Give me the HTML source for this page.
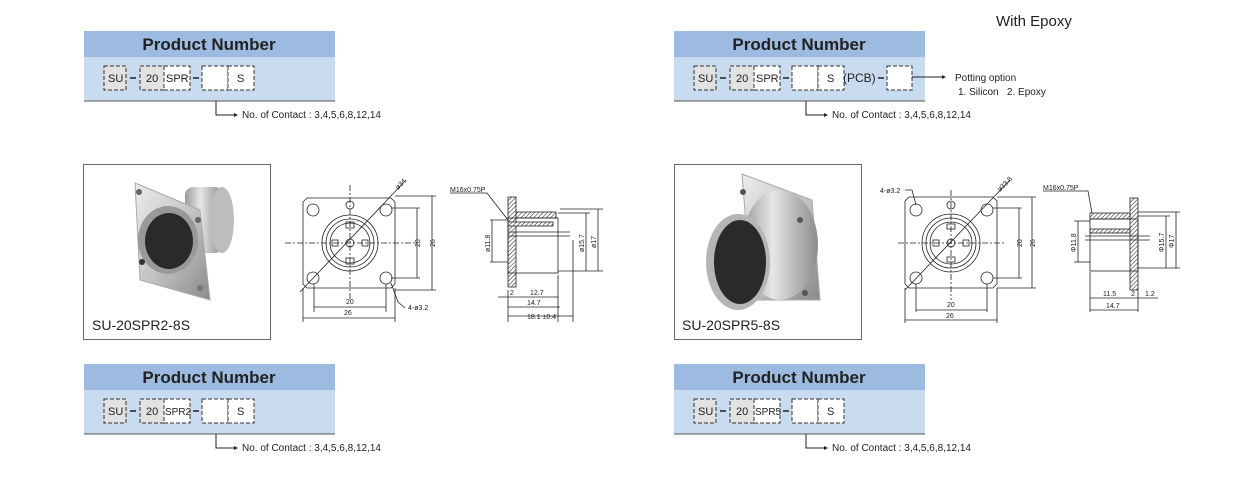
<!DOCTYPE html>
<html><head><meta charset="utf-8"><style>
html,body{margin:0;padding:0;background:#fff;}
svg{display:block;font-family:"Liberation Sans",sans-serif;}
</style></head><body>
<svg width="1260" height="492" viewBox="0 0 1260 492" xmlns="http://www.w3.org/2000/svg">
<defs>
<linearGradient id="met" x1="0" y1="0" x2="1" y2="1"><stop offset="0" stop-color="#ececec"/><stop offset="0.5" stop-color="#c4c4c4"/><stop offset="1" stop-color="#8a8a8a"/></linearGradient>
<linearGradient id="cyl" x1="0" y1="0" x2="1" y2="0"><stop offset="0" stop-color="#9a9a9a"/><stop offset="0.4" stop-color="#e6e6e6"/><stop offset="1" stop-color="#8c8c8c"/></linearGradient>
<pattern id="hat" width="3" height="3" patternUnits="userSpaceOnUse" patternTransform="rotate(45)"><rect width="3" height="3" fill="#fff"/><line x1="0" y1="0" x2="0" y2="3" stroke="#333" stroke-width="1.2"/></pattern>
</defs>

<text x="996" y="26" font-size="15" fill="#222">With Epoxy</text>

<!-- ===== Top-left product number ===== -->
<rect x="84" y="31" width="251" height="26" fill="#9dbbe1"/>
<rect x="84" y="57" width="251" height="44" fill="#c9dbef"/>
<line x1="84" y1="101" x2="335" y2="101" stroke="#555"/>
<text x="209" y="50" font-size="17" font-weight="bold" text-anchor="middle" fill="#222">Product Number</text>
<g stroke="#333" stroke-dasharray="4,2" fill="none">
<rect x="104" y="66" width="22" height="24" fill="#e2e2e2"/>
<rect x="140" y="66" width="24" height="24" fill="#e2e2e2"/>
<rect x="164" y="66" width="26" height="24" fill="#fff"/>
<rect x="202" y="66" width="26" height="24" fill="#fff"/>
<rect x="228" y="66" width="26" height="24" fill="#fff"/>
</g>
<g fill="#222" font-size="11"><text x="108" y="82">SU</text><text x="146" y="82">20</text><text x="166" y="82">SPR</text><text x="237" y="82">S</text></g>
<g stroke="#222" stroke-width="1.5"><line x1="130" y1="78" x2="136" y2="78"/><line x1="193" y1="78" x2="199" y2="78"/></g>
<polyline points="216,101 216,115 234,115" fill="none" stroke="#222"/><polygon points="234,113 238,115 234,117" fill="#222"/>
<text x="242" y="118" font-size="10" fill="#222">No. of Contact : 3,4,5,6,8,12,14</text>

<!-- ===== Top-right product number ===== -->
<rect x="674" y="31" width="251" height="26" fill="#9dbbe1"/>
<rect x="674" y="57" width="251" height="44" fill="#c9dbef"/>
<line x1="674" y1="101" x2="925" y2="101" stroke="#555"/>
<text x="799" y="50" font-size="17" font-weight="bold" text-anchor="middle" fill="#222">Product Number</text>
<g stroke="#333" stroke-dasharray="4,2" fill="none">
<rect x="694" y="66" width="22" height="24" fill="#e2e2e2"/>
<rect x="730" y="66" width="24" height="24" fill="#e2e2e2"/>
<rect x="754" y="66" width="26" height="24" fill="#fff"/>
<rect x="792" y="66" width="26" height="24" fill="#fff"/>
<rect x="818" y="66" width="26" height="24" fill="#fff"/>
<rect x="887" y="66" width="25" height="24" fill="#fff"/>
</g>
<g fill="#222" font-size="11"><text x="698" y="82">SU</text><text x="736" y="82">20</text><text x="756" y="82">SPR</text><text x="827" y="82">S</text><text x="843" y="82" font-size="12">(PCB)</text></g>
<g stroke="#222" stroke-width="1.5"><line x1="720" y1="78" x2="726" y2="78"/><line x1="783" y1="78" x2="789" y2="78"/><line x1="878" y1="78" x2="884" y2="78"/></g>
<line x1="912" y1="77" x2="942" y2="77" stroke="#222"/><polygon points="942,75 946,77 942,79" fill="#222"/>
<text x="955" y="81" font-size="10" fill="#222">Potting option</text>
<text x="958" y="95" font-size="10" fill="#222">1. Silicon &#160; 2. Epoxy</text>
<polyline points="806,101 806,115 824,115" fill="none" stroke="#222"/><polygon points="824,113 828,115 824,117" fill="#222"/>
<text x="832" y="118" font-size="10" fill="#222">No. of Contact : 3,4,5,6,8,12,14</text>

<!-- ===== Photos ===== -->
<rect x="83.5" y="164.5" width="187" height="175" fill="#fff" stroke="#666"/>
<g>
<rect x="185" y="187" width="38" height="66" rx="8" fill="url(#cyl)"/>
<ellipse cx="222" cy="220" rx="12" ry="33" fill="#bdbdbd"/>
<polygon points="135,183 200,210 210,300 140,280" fill="url(#met)" stroke="#aaa"/>
<ellipse cx="168" cy="240" rx="30" ry="34" fill="#999"/>
<ellipse cx="169" cy="241" rx="24" ry="28" fill="#2a2a2a"/>
<circle cx="139" cy="192" r="3" fill="#666"/><circle cx="198" cy="220" r="3" fill="#666"/><circle cx="142" cy="262" r="3" fill="#333"/><circle cx="200" cy="288" r="3" fill="#777"/>
</g>
<text x="92" y="330" font-size="14" fill="#222">SU-20SPR2-8S</text>

<rect x="674.5" y="164.5" width="187" height="175" fill="#fff" stroke="#666"/>
<g>
<polygon points="742,174 812,200 820,300 752,300" fill="url(#met)" stroke="#aaa"/>
<rect x="735" y="215" width="60" height="75" fill="url(#cyl)"/>
<ellipse cx="780" cy="245" rx="38" ry="55" fill="url(#cyl)"/>
<ellipse cx="738" cy="262" rx="32" ry="48" fill="#b5b5b5"/>
<ellipse cx="740" cy="262" rx="26" ry="42" fill="#2a2a2a"/>
<circle cx="743" cy="192" r="3" fill="#555"/><circle cx="800" cy="220" r="3" fill="#555"/><circle cx="805" cy="293" r="3" fill="#555"/>
</g>
<text x="682" y="330" font-size="14" fill="#222">SU-20SPR5-8S</text>

<!-- ===== Left front drawing ===== -->
<g stroke="#222" fill="none" stroke-width="0.8">
<path d="M307,198 H391 L395,202 V284 L391,288 H307 L303,284 V202 Z"/>
<circle cx="313" cy="210" r="6"/><circle cx="386" cy="210" r="6"/><circle cx="313" cy="278" r="6"/><circle cx="386" cy="278" r="6"/>
<circle cx="350" cy="205" r="4"/>
<circle cx="350" cy="243" r="28"/><circle cx="350" cy="243" r="24"/><circle cx="350" cy="243" r="20"/>
<circle cx="350" cy="243" r="4"/><rect x="346" y="222" width="8" height="6"/><rect x="346" y="258" width="8" height="6"/><rect x="332" y="240" width="6" height="6"/><rect x="362" y="240" width="6" height="6"/>
<g stroke-dasharray="6,2,2,2"><line x1="285" y1="243" x2="415" y2="243"/><line x1="350" y1="185" x2="350" y2="300"/></g>
<line x1="300" y1="292" x2="406" y2="180"/>
<line x1="391" y1="208" x2="420" y2="208"/><line x1="391" y1="278" x2="420" y2="278"/><line x1="417" y1="208" x2="417" y2="278"/>
<line x1="395" y1="196" x2="436" y2="196"/><line x1="395" y1="290" x2="436" y2="290"/><line x1="432" y1="196" x2="432" y2="290"/>
<line x1="314" y1="284" x2="314" y2="312"/><line x1="386" y1="284" x2="386" y2="312"/><line x1="314" y1="307" x2="386" y2="307"/>
<line x1="303" y1="288" x2="303" y2="322"/><line x1="395" y1="288" x2="395" y2="322"/><line x1="303" y1="318" x2="395" y2="318"/>
<polyline points="391,283 398,302 405,308"/>
</g>
<g font-size="7" fill="#222"><text x="346" y="304">20</text><text x="344" y="315">26</text><text x="408" y="310">4-ø3.2</text>
<text transform="translate(420,247) rotate(-90)">20</text><text transform="translate(435,247) rotate(-90)">26</text><text transform="translate(398,190) rotate(-45)">ø34</text></g>

<!-- ===== Left side drawing ===== -->
<g stroke="#222" fill="none" stroke-width="0.8">
<rect x="508" y="197" width="8" height="90" fill="url(#hat)"/>
<rect x="516" y="212" width="40" height="6" fill="url(#hat)"/>
<rect x="508" y="222" width="45" height="4" fill="url(#hat)"/>
<rect x="508" y="218" width="50" height="55"/>
<line x1="508" y1="232" x2="570" y2="232"/><line x1="508" y1="236" x2="570" y2="236"/>
<polyline points="450,193 487,193 508,220"/>
<line x1="490" y1="220" x2="508" y2="220"/><line x1="490" y1="262" x2="508" y2="262"/><line x1="492" y1="220" x2="492" y2="262"/>
<line x1="558" y1="213" x2="590" y2="213"/><line x1="558" y1="271" x2="603" y2="271"/><line x1="586" y1="213" x2="586" y2="271"/><line x1="560" y1="209" x2="603" y2="209"/><line x1="598" y1="209" x2="598" y2="271"/>
<line x1="508" y1="290" x2="508" y2="322"/><line x1="558" y1="275" x2="558" y2="322"/><line x1="573" y1="240" x2="573" y2="322"/>
<line x1="498" y1="297" x2="558" y2="297"/><line x1="508" y1="307" x2="560" y2="307"/><line x1="508" y1="316" x2="573" y2="316"/>
</g>
<g font-size="7" fill="#222"><text x="450" y="192">M16x0.75P</text><text x="510" y="295">2</text><text x="530" y="295">12.7</text><text x="527" y="305">14.7</text><text x="527" y="319">18.1 ±0.4</text>
<text transform="translate(490,252) rotate(-90)">ø11.8</text><text transform="translate(584,252) rotate(-90)">ø15.7</text><text transform="translate(596,248) rotate(-90)">ø17</text></g>

<!-- ===== Right front drawing ===== -->
<g stroke="#222" fill="none" stroke-width="0.8">
<path d="M909,197 H993 L997,201 V284 L993,288 H909 L905,284 V201 Z"/>
<circle cx="916" cy="210" r="6"/><circle cx="987" cy="210" r="6"/><circle cx="916" cy="278" r="6"/><circle cx="987" cy="278" r="6"/>
<circle cx="951" cy="205" r="4"/>
<circle cx="951" cy="243" r="29"/><circle cx="951" cy="243" r="25"/><circle cx="951" cy="243" r="21"/>
<circle cx="951" cy="243" r="4"/><rect x="947" y="224" width="8" height="5"/><rect x="947" y="257" width="8" height="5"/><rect x="933" y="240" width="6" height="6"/><rect x="963" y="240" width="6" height="6"/>
<g stroke-dasharray="6,2,2,2"><line x1="898" y1="243" x2="1005" y2="243"/><line x1="951" y1="190" x2="951" y2="300"/></g>
<line x1="905" y1="290" x2="1010" y2="180"/>
<line x1="993" y1="208" x2="1022" y2="208"/><line x1="993" y1="278" x2="1022" y2="278"/><line x1="1019" y1="208" x2="1019" y2="278"/>
<line x1="997" y1="197" x2="1036" y2="197"/><line x1="997" y1="288" x2="1036" y2="288"/><line x1="1032" y1="197" x2="1032" y2="288"/>
<line x1="916" y1="284" x2="916" y2="312"/><line x1="987" y1="284" x2="987" y2="312"/><line x1="916" y1="310" x2="987" y2="310"/>
<line x1="905" y1="288" x2="905" y2="323"/><line x1="997" y1="288" x2="997" y2="323"/><line x1="905" y1="320" x2="997" y2="320"/>
<polyline points="905,190 912,190 916,205"/>
</g>
<g font-size="7" fill="#222"><text x="947" y="307">20</text><text x="946" y="318">26</text><text x="880" y="193">4-ø3.2</text>
<text transform="translate(1022,247) rotate(-90)">20</text><text transform="translate(1035,247) rotate(-90)">26</text><text transform="translate(1000,192) rotate(-45)">ø33.8</text></g>

<!-- ===== Right side drawing ===== -->
<g stroke="#222" fill="none" stroke-width="0.8">
<rect x="1130" y="198" width="8" height="92" fill="url(#hat)"/>
<rect x="1090" y="213" width="40" height="6" fill="url(#hat)"/>
<rect x="1090" y="229" width="40" height="4" fill="url(#hat)"/>
<rect x="1090" y="219" width="48" height="52"/>
<line x1="1085" y1="236" x2="1150" y2="236"/><line x1="1085" y1="240" x2="1150" y2="240"/>
<polyline points="1043,191 1088,191 1092,213"/>
<line x1="1074" y1="221" x2="1090" y2="221"/><line x1="1074" y1="262" x2="1090" y2="262"/><line x1="1078" y1="221" x2="1078" y2="262"/>
<line x1="1138" y1="216" x2="1170" y2="216"/><line x1="1138" y1="268" x2="1180" y2="268"/><line x1="1166" y1="216" x2="1166" y2="268"/><line x1="1138" y1="212" x2="1180" y2="212"/><line x1="1176" y1="212" x2="1176" y2="268"/>
<line x1="1090" y1="272" x2="1090" y2="312"/><line x1="1138" y1="290" x2="1138" y2="312"/>
<line x1="1090" y1="298" x2="1158" y2="298"/><line x1="1090" y1="310" x2="1138" y2="310"/>
</g>
<g font-size="7" fill="#222"><text x="1043" y="190">M16x0.75P</text><text x="1103" y="296">11.5</text><text x="1131" y="296">2</text><text x="1145" y="296">1.2</text><text x="1106" y="308">14.7</text>
<text transform="translate(1076,252) rotate(-90)">Φ11.8</text><text transform="translate(1164,252) rotate(-90)">Φ15.7</text><text transform="translate(1174,248) rotate(-90)">Φ17</text></g>

<!-- ===== Bottom-left product number ===== -->
<rect x="84" y="364" width="251" height="26" fill="#9dbbe1"/>
<rect x="84" y="390" width="251" height="44" fill="#c9dbef"/>
<line x1="84" y1="434" x2="335" y2="434" stroke="#555"/>
<text x="209" y="383" font-size="17" font-weight="bold" text-anchor="middle" fill="#222">Product Number</text>
<g stroke="#333" stroke-dasharray="4,2" fill="none">
<rect x="104" y="399" width="22" height="24" fill="#e2e2e2"/>
<rect x="140" y="399" width="24" height="24" fill="#e2e2e2"/>
<rect x="164" y="399" width="26" height="24" fill="#fff"/>
<rect x="202" y="399" width="26" height="24" fill="#fff"/>
<rect x="228" y="399" width="26" height="24" fill="#fff"/>
</g>
<g fill="#222" font-size="11"><text x="108" y="415">SU</text><text x="146" y="415">20</text><text x="165" y="415" font-size="10">SPR2</text><text x="237" y="415">S</text></g>
<g stroke="#222" stroke-width="1.5"><line x1="130" y1="411" x2="136" y2="411"/><line x1="193" y1="411" x2="199" y2="411"/></g>
<polyline points="216,434 216,448 234,448" fill="none" stroke="#222"/><polygon points="234,446 238,448 234,450" fill="#222"/>
<text x="242" y="451" font-size="10" fill="#222">No. of Contact : 3,4,5,6,8,12,14</text>

<!-- ===== Bottom-right product number ===== -->
<rect x="674" y="364" width="251" height="26" fill="#9dbbe1"/>
<rect x="674" y="390" width="251" height="44" fill="#c9dbef"/>
<line x1="674" y1="434" x2="925" y2="434" stroke="#555"/>
<text x="799" y="383" font-size="17" font-weight="bold" text-anchor="middle" fill="#222">Product Number</text>
<g stroke="#333" stroke-dasharray="4,2" fill="none">
<rect x="694" y="399" width="22" height="24" fill="#e2e2e2"/>
<rect x="730" y="399" width="24" height="24" fill="#e2e2e2"/>
<rect x="754" y="399" width="26" height="24" fill="#fff"/>
<rect x="792" y="399" width="26" height="24" fill="#fff"/>
<rect x="818" y="399" width="26" height="24" fill="#fff"/>
</g>
<g fill="#222" font-size="11"><text x="698" y="415">SU</text><text x="736" y="415">20</text><text x="755" y="415" font-size="10">SPR5</text><text x="827" y="415">S</text></g>
<g stroke="#222" stroke-width="1.5"><line x1="720" y1="411" x2="726" y2="411"/><line x1="783" y1="411" x2="789" y2="411"/></g>
<polyline points="806,434 806,448 824,448" fill="none" stroke="#222"/><polygon points="824,446 828,448 824,450" fill="#222"/>
<text x="832" y="451" font-size="10" fill="#222">No. of Contact : 3,4,5,6,8,12,14</text>
</svg>
</body></html>
